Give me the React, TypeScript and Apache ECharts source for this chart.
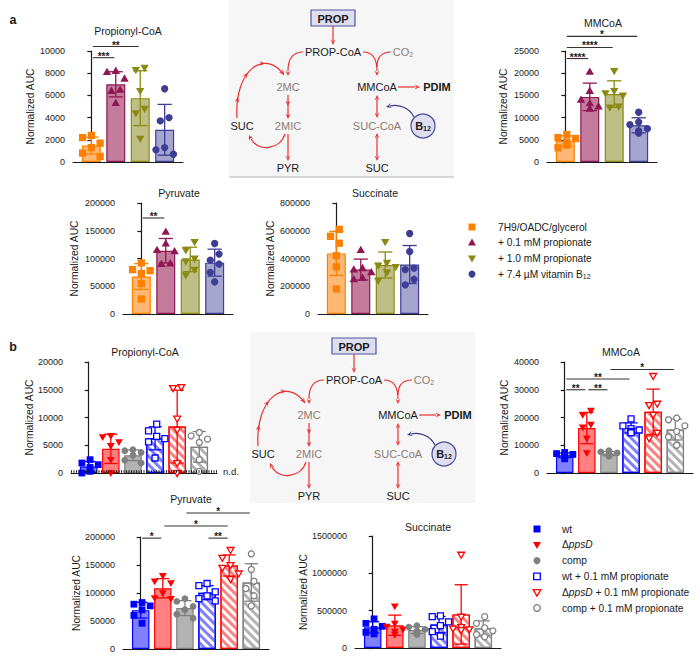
import React, { useEffect, useRef } from 'react';
import * as echarts from 'echarts';

const FONT = '"Liberation Sans", Arial, Helvetica, sans-serif';
const INK = '#1a1a1a';

// ---------------- data ----------------
const A_GROUPS = ['7H9/OADC/glycerol', '+ 0.1 mM propionate', '+ 1.0 mM propionate', '+ 7.4 µM vitamin B12'];
const B_GROUPS = ['wt', 'ΔppsD', 'comp', 'wt + 0.1 mM propionate', 'ΔppsD + 0.1 mM propionate', 'comp + 0.1 mM propionate'];

const A_PROPIONYL_COA = [
  [2400, 2200, 1700, 1300, 800, 500],
  [8200, 8100, 7500, 6500, 6400, 5300],
  [8500, 8300, 6400, 4800, 4400, 2100],
  [6600, 4000, 3700, 1300, 1100, 700],
];
const A_MMCOA = [
  [6200, 5500, 5300, 4500, 3800, 3200],
  [20300, 16000, 14000, 13200, 12500, 12000],
  [20500, 16000, 15500, 15000, 12500, 12300],
  [11200, 9000, 8400, 7500, 7000, 6500],
];
const A_PYRUVATE = [
  [92000, 80000, 78000, 73000, 55000, 27000],
  [148000, 127000, 115000, 113000, 91000, 90000],
  [130000, 115000, 100000, 95000, 80000, 70000],
  [127000, 108000, 97000, 90000, 75000, 58000],
];
const A_SUCCINATE = [
  [610000, 560000, 510000, 420000, 340000, 180000],
  [460000, 330000, 320000, 300000, 260000, 250000],
  [520000, 370000, 350000, 340000, 300000, 240000],
  [580000, 450000, 330000, 320000, 250000, 210000],
];

const B_PROPIONYL_COA = [
  [2400, 1800, 1500, 1000, 300, 0],
  [6700, 6500, 5600, 4900, 2400, 0],
  [4200, 4000, 3700, 3200, 2300, 1800],
  [8800, 7600, 6600, 6200, 5600, 2700],
  [15500, 15300, 9800, 7800, 1800, 0],
  [7300, 6700, 6100, 5500, 2400, 300],
];
const B_MMCOA = [
  [7400, 7000, 6700, 6400, 5800, 5100],
  [22500, 21000, 17500, 16500, 12500, 7200],
  [8000, 7600, 7200, 6900, 6400, 6000],
  [19500, 17000, 16000, 15500, 15000, 14500],
  [35000, 25000, 24500, 21000, 14500, 12500],
  [19800, 19200, 17000, 15000, 13000, 10000],
];
const B_PYRUVATE = [
  [83000, 80000, 77000, 70000, 60000, 46000],
  [131000, 121000, 118000, 100000, 91000, 90000],
  [90000, 85000, 76000, 70000, 62000, 55000],
  [117000, 113000, 102000, 95000, 90000, 86000],
  [177000, 163000, 150000, 145000, 135000, 125000],
  [170000, 142000, 121000, 108000, 95000, 77000],
];
const B_SUCCINATE = [
  [390000, 330000, 290000, 250000, 210000, 190000],
  [560000, 330000, 290000, 250000, 220000, 180000],
  [300000, 280000, 250000, 230000, 200000, 180000],
  [430000, 420000, 350000, 300000, 220000, 160000],
  [1250000, 420000, 280000, 260000, 250000, 240000],
  [420000, 330000, 270000, 230000, 180000, 150000],
];

// significance annotations: panel index, compared groups, bracket level (data units), label
const SIGNIFICANCE = [
  { panel: 0, from: 0, to: 1, level: 9400, label: '***' },
  { panel: 0, from: 0, to: 2, level: 10400, label: '**' },
  { panel: 1, from: 0, to: 1, level: 23300, label: '****' },
  { panel: 1, from: 0, to: 2, level: 25800, label: '****' },
  { panel: 1, from: 0, to: 3, level: 28300, label: '*' },
  { panel: 2, from: 0, to: 1, level: 173000, label: '**' },
  { panel: 5, from: 0, to: 1, level: 30000, label: '**' },
  { panel: 5, from: 1, to: 2, level: 30000, label: '**' },
  { panel: 5, from: 0, to: 3, level: 33900, label: '**' },
  { panel: 5, from: 2, to: 5, level: 37300, label: '*' },
  { panel: 6, from: 0, to: 1, level: 198000, label: '*' },
  { panel: 6, from: 3, to: 4, level: 198000, label: '**' },
  { panel: 6, from: 1, to: 4, level: 219600, label: '*' },
  { panel: 6, from: 2, to: 5, level: 242900, label: '*' },
];

// ---------------- styles / layout ----------------
const A_STYLE = [
  { color: '#FF8000', fill: '#FFB873', shape: 'square' },
  { color: '#8E1652', fill: '#C47C9C', shape: 'triangle' },
  { color: '#8A8A12', fill: '#BEBF86', shape: 'triangleDown' },
  { color: '#3D3D94', fill: '#A5A5CF', shape: 'circle' },
];
const B_STYLE: any[] = [
  { color: '#0000FF', fill: '#8080FF', shape: 'square' },
  { color: '#FF0000', fill: '#FF8080', shape: 'triangleDown' },
  { color: '#808080', fill: '#B3B3B3', shape: 'circle' },
  { color: '#0000FF', fill: '#FFFFFF', stripe: '#8080FF', shape: 'square', hollow: true },
  { color: '#FF0000', fill: '#FFFFFF', stripe: '#FF8080', shape: 'triangleDown', hollow: true },
  { color: '#808080', fill: '#FFFFFF', stripe: '#B3B3B3', shape: 'circle', hollow: true },
];

const PANELS: any[] = [
  { set: 'a', title: 'Propionyl-CoA', data: A_PROPIONYL_COA, max: 10000, interval: 2000, left: 73, top: 51, width: 110, height: 111, tx: 128, ty: 31, nameGap: 38 },
  { set: 'a', title: 'MMCoA', data: A_MMCOA, max: 25000, interval: 5000, left: 547, top: 51, width: 110, height: 111, tx: 603, ty: 23, nameGap: 39 },
  { set: 'a', title: 'Pyruvate', data: A_PYRUVATE, max: 200000, interval: 50000, left: 123, top: 203, width: 110, height: 111, tx: 179, ty: 193, nameGap: 44 },
  { set: 'a', title: 'Succinate', data: A_SUCCINATE, max: 800000, interval: 200000, left: 318, top: 203, width: 110, height: 111, tx: 375, ty: 193, nameGap: 43 },
  { set: 'b', title: 'Propionyl-CoA', data: B_PROPIONYL_COA, max: 20000, interval: 5000, left: 71, top: 362, width: 146, height: 111, tx: 145, ty: 352, nameGap: 35, nd: true },
  { set: 'b', title: 'MMCoA', data: B_MMCOA, max: 40000, interval: 10000, left: 547, top: 362, width: 146, height: 111, tx: 621, ty: 352, nameGap: 38 },
  { set: 'b', title: 'Pyruvate', data: B_PYRUVATE, max: 200000, interval: 50000, left: 123, top: 537, width: 146, height: 112, tx: 191, ty: 499, nameGap: 41 },
  { set: 'b', title: 'Succinate', data: B_SUCCINATE, max: 1500000, interval: 500000, left: 355, top: 536, width: 146, height: 112, tx: 428, ty: 527, nameGap: 47 },
];

const mean = (a: number[]) => a.reduce((s, v) => s + v, 0) / a.length;
const sd = (a: number[]) => {
  const m = mean(a);
  return Math.sqrt(a.reduce((s, v) => s + (v - m) * (v - m), 0) / (a.length - 1));
};

// horizontal spreading of overlapping points (scatter-dot-plot style)
function swarm(vals: number[], pxPerUnit: number, d: number): number[] {
  const idx = vals.map((_, i) => i).sort((a, b) => vals[b] - vals[a]);
  const placed: { i: number; x: number; y: number }[] = [];
  const steps = [0, -0.6, 0.6, -1.2, 1.2, -1.8, 1.8];
  const ythr = d * 1.25;
  for (const i of idx) {
    const y = vals[i] * pxPerUnit;
    let chosen = 0;
    for (const k of steps) {
      const x = k * d;
      if (placed.every((p) => Math.abs(p.x - x) >= d * 0.95 || Math.abs(p.y - y) >= ythr)) { chosen = x; break; }
    }
    placed.push({ i, x: chosen, y });
  }
  // recentre each vertically connected cluster
  const out = new Array(vals.length).fill(0);
  let cluster: any[] = [];
  const flush = () => {
    const m = cluster.reduce((s, p) => s + p.x, 0) / cluster.length;
    cluster.forEach((p) => { out[p.i] = p.x - m; });
    cluster = [];
  };
  placed.forEach((p, k) => {
    if (k > 0 && placed[k - 1].y - p.y >= ythr) flush();
    cluster.push(p);
  });
  if (cluster.length) flush();
  return out;
}

function sym(shape: string, cx: number, cy: number, size: number, fill: string, stroke: string | null, lw: number) {
  const style: any = { fill, stroke: stroke || undefined, lineWidth: lw };
  if (shape === 'square') return { type: 'rect', shape: { x: cx - size / 2, y: cy - size / 2, width: size, height: size }, style };
  if (shape === 'circle') return { type: 'circle', shape: { cx, cy, r: size / 2 }, style };
  const w = size * 1.15, h = size;
  const pts = shape === 'triangle'
    ? [[cx, cy - h * 0.6], [cx - w / 2, cy + h * 0.4], [cx + w / 2, cy + h * 0.4]]
    : [[cx, cy + h * 0.6], [cx - w / 2, cy - h * 0.4], [cx + w / 2, cy - h * 0.4]];
  return { type: 'polygon', shape: { points: pts }, style };
}

function buildOption() {
  const grid: any[] = [], xAxis: any[] = [], yAxis: any[] = [], series: any[] = [];
  PANELS.forEach((p, gi) => {
    const styles = p.set === 'a' ? A_STYLE : B_STYLE;
    const n = p.data.length;
    const pad = p.set === 'a' ? 0.75 : 0.8;
    const bw = p.set === 'a' ? 19 : 17.5;
    const symSize = p.set === 'a' ? 7.3 : 6.8;
    grid.push({ left: p.left, top: p.top, width: p.width, height: p.height, containLabel: false });
    xAxis.push({
      type: 'value', gridIndex: gi, min: -pad, max: n - 1 + pad,
      axisLine: { show: true, onZero: false, lineStyle: { color: INK, width: 1.2 } },
      axisTick: { show: false }, axisLabel: { show: false }, splitLine: { show: false },
    });
    yAxis.push({
      type: 'value', gridIndex: gi, min: 0, max: p.max, interval: p.interval,
      name: 'Normalized AUC', nameLocation: 'middle', nameGap: p.nameGap,
      nameTextStyle: { fontFamily: FONT, fontSize: 10.3, color: INK },
      axisLine: { show: true, lineStyle: { color: INK, width: 1.2 } },
      axisTick: { show: true, length: 4, lineStyle: { color: INK, width: 1.2 } },
      axisLabel: { fontFamily: FONT, fontSize: 9, color: INK, margin: 8, formatter: (v: number) => String(v) },
      splitLine: { show: false },
    });
    const means = p.data.map(mean);
    const sds = p.data.map(sd);
    series.push({
      type: 'bar', xAxisIndex: gi, yAxisIndex: gi, barWidth: bw, silent: true, z: 2,
      data: means.map((m: number, i: number) => {
        const st: any = styles[i];
        const itemStyle: any = { color: st.fill, borderColor: st.color, borderWidth: 1.2 };
        if (st.stripe) {
          itemStyle.decal = { symbol: 'rect', symbolSize: 1, color: st.stripe, dashArrayX: [1, 0], dashArrayY: [2.5, 3], rotation: Math.PI / 4 };
        }
        return { value: [i, m], itemStyle };
      }),
      markLine: p.nd ? {
        silent: true, symbol: ['none', 'none'],
        lineStyle: { type: [1, 1.5], color: INK, width: 2.5 },
        label: { show: true, position: 'end', formatter: 'n.d.', fontFamily: FONT, fontSize: 9.5, color: INK, distance: 6 },
        data: [{ yAxis: p.max * 0.012 }],
      } : undefined,
    });
    const cap = bw * 0.75;
    series.push({
      type: 'custom', xAxisIndex: gi, yAxisIndex: gi, silent: true, z: 3,
      dimensions: ['x', 'y', 'sd'], encode: { x: 0, y: 1 },
      data: means.map((m: number, i: number) => [i, m, sds[i]]),
      renderItem: (params: any, api: any) => {
        const i = api.value(0), m = api.value(1), s = api.value(2);
        const st: any = styles[params.dataIndex];
        const hi = api.coord([i, m + s]);
        const lo = api.coord([i, Math.max(0, m - s)]);
        const hw = cap / 2;
        const ls = { stroke: st.color, lineWidth: 1.3 };
        return {
          type: 'group', children: [
            { type: 'line', shape: { x1: hi[0], y1: hi[1], x2: lo[0], y2: lo[1] }, style: ls },
            { type: 'line', shape: { x1: hi[0] - hw, y1: hi[1], x2: hi[0] + hw, y2: hi[1] }, style: ls },
            { type: 'line', shape: { x1: lo[0] - hw, y1: lo[1], x2: lo[0] + hw, y2: lo[1] }, style: ls },
          ],
        };
      },
    });
    const pts: number[][] = [];
    p.data.forEach((vals: number[], c: number) => {
      const offs = swarm(vals, p.height / p.max, symSize);
      vals.forEach((v, k) => pts.push([c, v, offs[k]]));
    });
    series.push({
      type: 'custom', xAxisIndex: gi, yAxisIndex: gi, silent: true, z: 4,
      dimensions: ['x', 'y', 'off'], encode: { x: 0, y: 1 },
      data: pts,
      renderItem: (params: any, api: any) => {
        const c = api.value(0), v = api.value(1), off = api.value(2);
        const st: any = styles[c];
        const pt = api.coord([c, v]);
        return st.hollow
          ? sym(st.shape, pt[0] + off, pt[1], symSize - 0.8, '#FFFFFF', st.color, 1.3)
          : sym(st.shape, pt[0] + off, pt[1], symSize, st.color, null, 0);
      },
    });
  });
  return { animation: false, backgroundColor: '#ffffff', grid, xAxis, yAxis, series };
}

// ---------------- graphics ----------------
const RED = '#EC2F2F';
const BROWN = '#8D7B72';
const NAVY = '#3B3B8F';

function text(x: number, y: number, t: string, o: any = {}) {
  return {
    type: 'text', x, y, silent: true,
    style: {
      text: t, fill: o.fill || INK, fontFamily: FONT, fontSize: o.size || 11, fontWeight: o.bold ? 'bold' : 'normal',
      fontStyle: o.italic ? 'italic' : 'normal',
      align: o.align || 'center', verticalAlign: 'middle', rich: o.rich, lineHeight: o.lineHeight,
    },
  };
}
function line(x1: number, y1: number, x2: number, y2: number, color = RED, lw = 1.2) {
  return { type: 'line', silent: true, shape: { x1, y1, x2, y2 }, style: { stroke: color, lineWidth: lw } };
}
function bez(x1: number, y1: number, cpx1: number, cpy1: number, cpx2: number, cpy2: number, x2: number, y2: number, color = RED) {
  return { type: 'bezierCurve', silent: true, shape: { x1, y1, cpx1, cpy1, cpx2, cpy2, x2, y2 }, style: { stroke: color, lineWidth: 1.2, fill: 'none' } };
}
function head(x: number, y: number, deg: number, color = RED, L = 5.5, W = 5) {
  const a = (deg * Math.PI) / 180, c = Math.cos(a), s = Math.sin(a);
  const bx = x - L * c, by = y - L * s;
  const nx = x - L * 0.6 * c, ny = y - L * 0.6 * s;
  return {
    type: 'polygon', silent: true,
    shape: { points: [[x, y], [bx - (W / 2) * s, by + (W / 2) * c], [nx, ny], [bx + (W / 2) * s, by - (W / 2) * c]] },
    style: { fill: color },
  };
}
function bezierHeads(P: number[][], ts: number[], color = RED) {
  return ts.map((t) => {
    const u = 1 - t;
    const x = u * u * u * P[0][0] + 3 * u * u * t * P[1][0] + 3 * u * t * t * P[2][0] + t * t * t * P[3][0];
    const y = u * u * u * P[0][1] + 3 * u * u * t * P[1][1] + 3 * u * t * t * P[2][1] + t * t * t * P[3][1];
    const dx = 3 * u * u * (P[1][0] - P[0][0]) + 6 * u * t * (P[2][0] - P[1][0]) + 3 * t * t * (P[3][0] - P[2][0]);
    const dy = 3 * u * u * (P[1][1] - P[0][1]) + 6 * u * t * (P[2][1] - P[1][1]) + 3 * t * t * (P[3][1] - P[2][1]);
    return head(x, y, (Math.atan2(dy, dx) * 180) / Math.PI, color);
  });
}

function diagram(dx: number, dy: number, withRule: boolean) {
  const ch: any[] = [];
  ch.push({ type: 'rect', silent: true, shape: { x: 229, y: withRule ? -dy : 4, width: 225, height: withRule ? 177 : 171 }, style: { fill: '#F6F6F7' } });
  if (withRule) ch.push(line(229, 177, 454, 177, '#B5B5B5', 1));
  ch.push({ type: 'rect', silent: true, shape: { x: 311, y: 10, width: 44, height: 16 }, style: { fill: '#DEDEF0', stroke: '#5555A0', lineWidth: 1.2 } });
  ch.push(text(333, 18.5, 'PROP', { bold: true }));
  ch.push(line(333, 26, 333, 41)); ch.push(head(333, 45, 90));
  ch.push(text(333, 52, 'PROP-CoA'));
  ch.push(text(403, 52, 'CO{s|2}', { fill: BROWN, rich: { s: { fontSize: 7, lineHeight: 5, verticalAlign: 'bottom', fill: BROWN } }, lineHeight: 12 }));
  ch.push(bez(303, 52, 292, 52, 288, 60, 288, 71)); ch.push(head(288, 76, 90));
  ch.push(bez(363, 52, 373, 52, 377, 60, 377, 71)); ch.push(head(377, 76, 90));
  ch.push(bez(391, 52, 382, 52, 377, 57, 377, 67));
  ch.push(text(288, 87, '2MC', { fill: BROWN }));
  ch.push(text(377, 87, 'MMCoA'));
  ch.push(line(398, 87, 415, 87)); ch.push(head(420, 87, 0));
  ch.push(text(437, 87, 'PDIM', { bold: true }));
  ch.push(line(288, 95, 288, 117)); ch.push(head(288, 106, 90)); ch.push(head(288, 119, 90));
  ch.push(text(288, 126, '2MIC', { fill: BROWN }));
  ch.push(line(288, 134, 288, 157)); ch.push(head(288, 161, 90));
  ch.push(text(288, 168, 'PYR'));
  ch.push(text(242, 126, 'SUC'));
  ch.push(line(377, 99, 377, 114)); ch.push(head(377, 95, -90)); ch.push(head(377, 118, 90));
  ch.push(text(377, 126, 'SUC-CoA', { fill: BROWN }));
  ch.push(line(377, 137, 377, 157)); ch.push(head(377, 133, -90)); ch.push(head(377, 161, 90));
  ch.push(text(377, 168, 'SUC'));
  // 2MIC -> SUC
  ch.push(bez(285, 134, 280, 150, 258, 152, 251, 139)); ch.push(head(249, 135, -115));
  // SUC -> 2MC cycle
  const arc = [[237, 118], [234, 70], [265, 48], [284, 75]];
  ch.push(bez(arc[0][0], arc[0][1], arc[1][0], arc[1][1], arc[2][0], arc[2][1], arc[3][0], arc[3][1]));
  ch.push(...bezierHeads(arc, [0.16, 0.42, 0.7, 1]));
  // B12
  ch.push(bez(414, 117, 409, 107, 398, 104, 390, 106, NAVY)); ch.push(head(386, 107, 166, NAVY));
  ch.push({ type: 'circle', silent: true, shape: { cx: 423, cy: 126, r: 12 }, style: { fill: '#DEDEF0', stroke: '#4B4B9B', lineWidth: 1.2 } });
  ch.push(text(423, 126, 'B{s|12}', { bold: true, lineHeight: 12, rich: { s: { fontSize: 7, fontWeight: 'bold', lineHeight: 5, verticalAlign: 'bottom', fill: INK } } }));
  return { type: 'group', x: dx, y: dy, children: ch };
}

function legendLabel(t: string) {
  return t.replace('ppsD', '{i|ppsD}').replace(/B12$/, 'B{s|12}');
}

function legend(groups: string[], styles: any[], mx: number, tx: number, y0: number, dy: number) {
  const out: any[] = [];
  groups.forEach((g, i) => {
    const st = styles[i];
    const y = y0 + i * dy;
    const m: any = st.hollow ? sym(st.shape, mx, y, 6.6, '#FFFFFF', st.color, 1.3) : sym(st.shape, mx, y, 7, st.color, null, 0);
    m.silent = true;
    out.push(m);
    out.push(text(tx, y, legendLabel(g), {
      size: 10.2, align: 'left', lineHeight: 12,
      rich: {
        i: { fontStyle: 'italic', fontSize: 10.2, fontFamily: FONT, fill: INK },
        s: { fontSize: 7, lineHeight: 5, verticalAlign: 'bottom', fontFamily: FONT, fill: INK },
      },
    }));
  });
  return out;
}

function brackets(chart: any) {
  const out: any[] = [];
  SIGNIFICANCE.forEach((s) => {
    const a = chart.convertToPixel({ gridIndex: s.panel }, [s.from, s.level]);
    const b = chart.convertToPixel({ gridIndex: s.panel }, [s.to, s.level]);
    if (!a || !b) return;
    out.push(line(a[0] + 1.5, a[1], b[0] - 1.5, b[1], '#333333', 1.1));
    out.push(text((a[0] + b[0]) / 2, a[1] - 1.5, s.label, { size: 10, fill: INK, bold: true, lineHeight: 8 }));
  });
  return out;
}

function staticGraphics() {
  const g: any[] = [];
  g.push(diagram(0, 0, true));
  g.push(diagram(21, 328, false));
  g.push(text(13, 20, 'a', { bold: true, size: 12.5 }));
  g.push(text(13, 347, 'b', { bold: true, size: 12.5 }));
  PANELS.forEach((p) => g.push(text(p.tx, p.ty, p.title, { size: 10.5 })));
  g.push(...legend(A_GROUPS, A_STYLE, 472, 498, 227, 15.7));
  g.push(...legend(B_GROUPS, B_STYLE, 537, 562, 529, 15.8));
  return g;
}

export default function App() {
  const ref = useRef<HTMLDivElement>(null);
  useEffect(() => {
    if (!ref.current) return;
    const chart = echarts.init(ref.current, undefined, { renderer: 'svg' });
    chart.setOption(buildOption() as any);
    chart.setOption({ graphic: { elements: [...staticGraphics(), ...brackets(chart)] } } as any);
    return () => chart.dispose();
  }, []);
  return <div ref={ref} style={{ position: 'absolute', left: 0, top: 0, width: 700, height: 663 }} />;
}
